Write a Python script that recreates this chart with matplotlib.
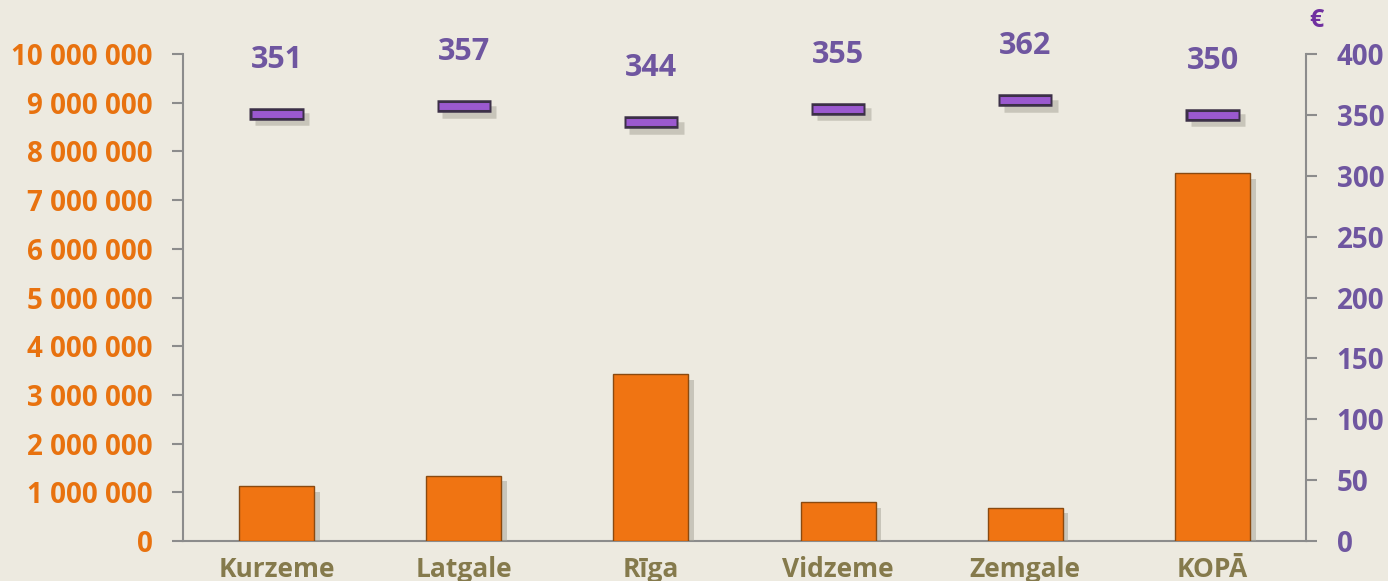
import matplotlib.pyplot as plt
import matplotlib.patheffects as pe
import numpy as np

regions = ["Kurzeme", "Latgale", "Rīga", "Vidzeme", "Zemgale", "KOPĀ"]
amounts = [1130000, 1340000, 3420000, 800000, 680000, 7550000]  # left axis, bars
per_person = [351, 357, 344, 355, 362, 350]  # right axis, EUR
left_ticks = [0, 1000000, 2000000, 3000000, 4000000, 5000000, 6000000, 7000000, 8000000, 9000000, 10000000]
right_ticks = [0, 50, 100, 150, 200, 250, 300, 350, 400]

bg = "#edeae0"
orange = "#e8720f"
purple_txt = "#6f56a0"
olive = "#857a4c"

plt.rcParams['font.family'] = ['Open Sans', 'DejaVu Sans']
fig = plt.figure(figsize=(13.88, 5.81), dpi=100, facecolor=bg)
ax = fig.add_axes([0.1318, 0.0688, 0.8092, 0.8382])
ax.set_facecolor(bg)
x = np.arange(len(regions))

# bars with a soft drop shadow
shadow = [pe.SimplePatchShadow(offset=(4, -4), shadow_rgbFace="#a5a295", alpha=0.5), pe.Normal()]
bars = ax.bar(x, amounts, width=0.4, color="#f07412", edgecolor="#8a4a10", linewidth=1.0, zorder=3)
for b in bars:
    b.set_path_effects(shadow)

ax.set_xlim(-0.5, 5.5)
ax.set_ylim(0, 10000000)
ax.set_yticks(left_ticks)
ax.set_yticklabels(["{:,}".format(v).replace(",", " ") for v in left_ticks])
ax.set_xticks(x)
ax.set_xticklabels(regions)
for s in ["top", "right"]:
    ax.spines[s].set_visible(False)
ax.spines["left"].set_color("#8c8c8c")
ax.spines["bottom"].set_color("#8c8c8c")
ax.spines["left"].set_linewidth(1.5)
ax.spines["bottom"].set_linewidth(1.5)
ax.tick_params(axis="y", colors="#8c8c8c", length=8, width=1.5, labelcolor=orange, labelsize=20, pad=14)
ax.tick_params(axis="x", length=0, labelcolor=olive, labelsize=19, pad=11)
for lbl in ax.get_yticklabels() + ax.get_xticklabels():
    lbl.set_fontweight("bold")

# right axis in euro
ax2 = ax.twinx()
ax2.set_ylim(0, 400)
ax2.set_yticks(right_ticks)
for s in ["top", "left", "bottom"]:
    ax2.spines[s].set_visible(False)
ax2.spines["right"].set_color("#8c8c8c")
ax2.spines["right"].set_linewidth(1.5)
ax2.tick_params(axis="y", colors="#8c8c8c", length=8, width=1.5, labelcolor=purple_txt, labelsize=20, pad=14)
for lbl in ax2.get_yticklabels():
    lbl.set_fontweight("bold")

mshadow = [pe.SimpleLineShadow(offset=(4, -4), shadow_color="#a5a295", alpha=0.5), pe.Normal()]
ax2.plot(x, per_person, linestyle="none", marker="_", markersize=39, markeredgewidth=9,
         markeredgecolor="#3c3048", zorder=4, path_effects=mshadow)
ax2.plot(x, per_person, linestyle="none", marker="_", markersize=36, markeredgewidth=5,
         markeredgecolor="#9b59d0", zorder=5)
for xi, v in zip(x, per_person):
    ax2.annotate(str(v), (xi, v), xytext=(0, 39), textcoords="offset points", ha="center",
                 va="center", fontsize=22, fontweight="bold", color=purple_txt)

fig.text(0.9485, 0.965, "€", color="#7030a0", fontsize=18, fontweight="bold", ha="center", va="center")

fig.savefig("out.png", dpi=100, facecolor=bg)
